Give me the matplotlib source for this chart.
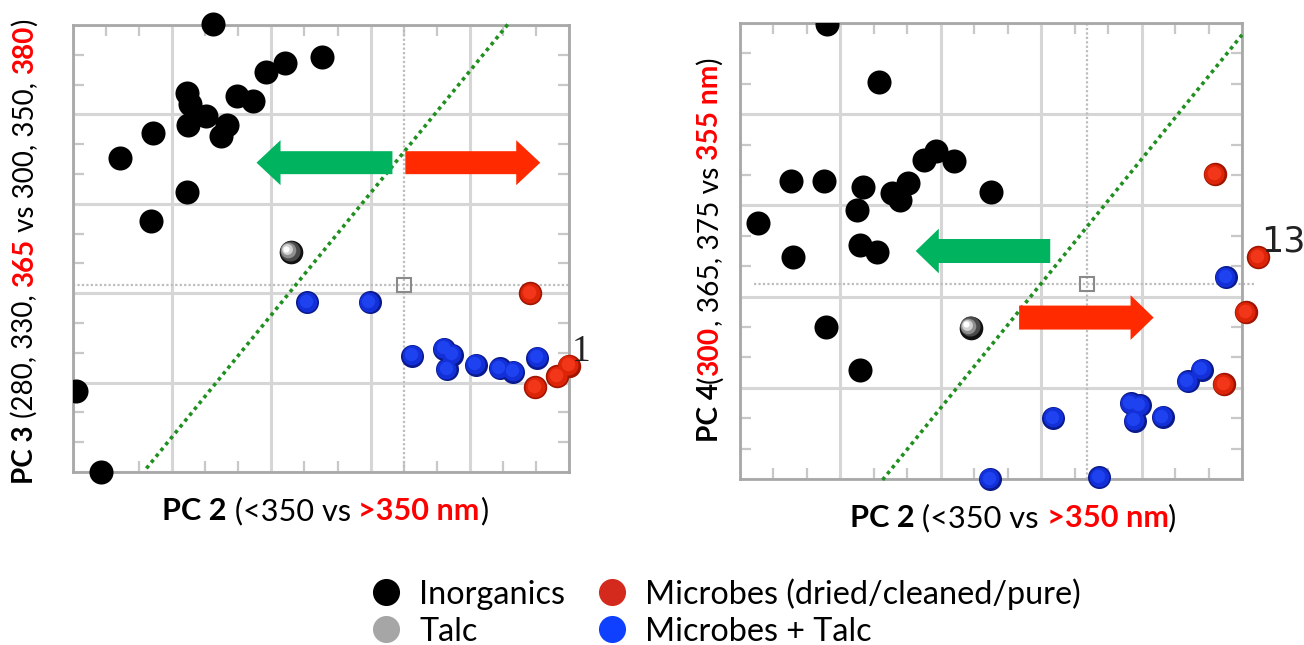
import matplotlib
matplotlib.use("Agg")
import matplotlib.pyplot as plt
import matplotlib.transforms as mtransforms
from matplotlib.patches import FancyArrow, Rectangle
from matplotlib.lines import Line2D
from matplotlib.ticker import MultipleLocator

# ---------------- data (grid units, 0..5 on each axis) ----------------
# Left panel: PC 2 (x) vs PC 3 (y)
L_inorg_x = [1.41, 2.51, 2.14, 1.95, 1.15, 1.65, 1.81, 1.18, 1.34, 1.16, 1.55, 1.49, 0.81, 0.47, 1.15, 0.79, 0.03, 0.28]
L_inorg_y = [5.01, 4.64, 4.57, 4.47, 4.24, 4.21, 4.15, 4.12, 3.98, 3.88, 3.88, 3.76, 3.79, 3.51, 3.13, 2.81, 0.91, 0.00]
L_talc_x = [2.20]
L_talc_y = [2.46]
L_mt_x = [2.36, 2.99, 3.42, 3.74, 3.82, 3.77, 4.06, 4.30, 4.44, 4.68]
L_mt_y = [1.90, 1.90, 1.30, 1.38, 1.31, 1.15, 1.20, 1.16, 1.12, 1.28]
L_mic_x = [4.61, 4.66, 4.88, 5.00]
L_mic_y = [2.00, 0.95, 1.07, 1.19]
L_center = (3.34, 2.09)
L_divider_x = [0.74, 4.40]
L_divider_y = [0.04, 5.03]
L_label = ("1", 5.12, 1.34)

# Right panel: PC 2 (x) vs PC 4 (y)
R_inorg_x = [0.87, 1.38, 1.95, 1.83, 2.13, 0.51, 0.84, 1.23, 1.67, 1.51, 1.59, 2.50, 1.17, 0.18, 1.20, 1.36, 0.53, 0.86, 1.20]
R_inorg_y = [4.99, 4.35, 3.60, 3.50, 3.49, 3.27, 3.27, 3.20, 3.25, 3.14, 3.06, 3.15, 2.95, 2.81, 2.57, 2.49, 2.43, 1.67, 1.20]
R_talc_x = [2.30]
R_talc_y = [1.66]
R_mt_x = [4.84, 4.60, 4.46, 3.89, 3.98, 3.93, 4.21, 3.12, 2.49, 3.58]
R_mt_y = [2.21, 1.20, 1.07, 0.83, 0.81, 0.64, 0.68, 0.67, 0.00, 0.02]
R_mic_x = [4.73, 5.16, 5.04, 4.82]
R_mic_y = [3.34, 2.43, 1.83, 1.04]
R_center = (3.46, 2.14)
R_divider_x = [1.42, 5.00]
R_divider_y = [-0.01, 4.87]
R_label = ("13", 5.41, 2.60)

legend_labels = ["Inorganics", "Talc", "Microbes (dried/cleaned/pure)", "Microbes + Talc"]

# ---------------- style ----------------
W, H = 1304, 645
FAM = ["Lato", "DejaVu Sans"]
BLACK = "#000000"
RED_T = "#ff0000"
GREEN_ARROW = "#00b35f"
RED_ARROW = "#ff2a00"
GRID = "#d6d6d6"
SPINE = "#a8a8a8"

fig = plt.figure(figsize=(W / 100, H / 100), dpi=100)
fig.patch.set_facecolor("white")


def px_rect(x0, y0, x1, y1):
    return [x0 / W, 1 - y1 / H, (x1 - x0) / W, (y1 - y0) / H]


axL = fig.add_axes(px_rect(73, 25, 569, 472))
axR = fig.add_axes(px_rect(740, 23, 1242, 479))

LAYERS = {
    "black": [("#000000", 1.0, 0, 0)],
    "blue": [("#0a1a8c", 1.0, 0, 0), ("#1330d8", 0.86, -0.4, 0.4), ("#1e42f0", 0.58, -1.0, 1.0)],
    "red": [("#a01400", 1.0, 0, 0), ("#dc2408", 0.86, -0.4, 0.4), ("#f2361a", 0.58, -1.0, 1.0)],
    "talc": [("#111111", 1.0, 0, 0), ("#4a4a4a", 0.85, -1.0, 0.8), ("#8f8f8f", 0.66, -2.0, 1.5), ("#d2d2d2", 0.46, -3.0, 2.0), ("#ffffff", 0.26, -3.6, 2.4)],
}


def sphere(ax, x, y, kind, size, clip):
    for color, frac, dx, dy in LAYERS[kind]:
        tr = ax.transData + mtransforms.ScaledTranslation(dx / 72, dy / 72, fig.dpi_scale_trans)
        sc = ax.scatter(x, y, s=size * frac ** 2, c=color, transform=tr, linewidths=0, zorder=5)
        sc.set_clip_path(clip)


def style_axes(ax):
    ax.set_xlim(0, 5)
    ax.set_ylim(0, 5)
    ax.set_xticks(range(6))
    ax.set_yticks(range(6))
    ax.xaxis.set_minor_locator(MultipleLocator(1 / 3))
    ax.yaxis.set_minor_locator(MultipleLocator(1 / 3))
    ax.set_xticklabels([])
    ax.set_yticklabels([])
    ax.tick_params(which="major", length=0)
    ax.tick_params(which="minor", direction="in", length=8, width=1.6, color="#c8c8c8",
                   top=True, right=True, bottom=True, left=True)
    ax.grid(True, which="major", color=GRID, lw=2.2, zorder=0)
    ax.set_axisbelow(True)
    for s in ax.spines.values():
        s.set_color(SPINE)
        s.set_linewidth(2)


def panel(ax, inorg, talc, mt, mic, center, divider, label, arrows, clipbox, hline_span=None, label_font=None):
    style_axes(ax)
    clip = Rectangle(clipbox[:2], clipbox[2], clipbox[3], transform=ax.transAxes, visible=False)
    ax.add_patch(clip)
    # crosshair
    ax.axvline(center[0], color="#bdbdbd", ls=(0, (1, 1)), lw=1.6, zorder=1)
    if hline_span is None:
        ax.axhline(center[1], color="#bdbdbd", ls=(0, (1, 1)), lw=1.6, zorder=1)
    else:
        ax.plot(hline_span, [center[1], center[1]], color="#bdbdbd", ls=(0, (1, 1)), lw=1.6, zorder=1, clip_on=False)
    ax.plot([center[0]], [center[1]], marker="s", ms=10, mfc="none", mec="#8a8a8a", mew=1.5, zorder=2)
    # divider
    ax.plot(divider[0], divider[1], color="#1f8f1f", ls=(0, (1, 1.1)), lw=2.6, zorder=3, clip_on=False)
    # points
    sphere(ax, inorg[0], inorg[1], "black", 300, clip)
    sphere(ax, talc[0], talc[1], "talc", 290, clip)
    sphere(ax, mt[0], mt[1], "blue", 275, clip)
    sphere(ax, mic[0], mic[1], "red", 285, clip)
    # arrows
    for (x0, x1, y, sw, hw, hl, col) in arrows:
        ax.add_patch(FancyArrow(x0, y, x1 - x0, 0, width=sw, head_width=hw, head_length=hl,
                                length_includes_head=True, color=col, lw=0, zorder=6, clip_on=False))
    ax.text(label[1], label[2], label[0], fontsize=label_font[1], family=label_font[0], color="#222222",
            ha="center", va="center", zorder=7, clip_on=False)


panel(axL, (L_inorg_x, L_inorg_y), (L_talc_x, L_talc_y), (L_mt_x, L_mt_y), (L_mic_x, L_mic_y),
      L_center, (L_divider_x, L_divider_y), L_label,
      [(3.22, 1.85, 3.46, 0.257, 0.503, 0.242, GREEN_ARROW),
       (3.35, 4.71, 3.46, 0.257, 0.503, 0.242, RED_ARROW)],
      clipbox=(0, -0.2, 1.3, 1.4), label_font=("Liberation Serif", 27))

panel(axR, (R_inorg_x, R_inorg_y), (R_talc_x, R_talc_y), (R_mt_x, R_mt_y), (R_mic_x, R_mic_y),
      R_center, (R_divider_x, R_divider_y), R_label,
      [(3.09, 1.75, 2.50, 0.263, 0.49, 0.23, GREEN_ARROW),
       (2.78, 4.12, 1.77, 0.263, 0.49, 0.23, RED_ARROW)],
      clipbox=(-0.2, -0.2, 1.4, 1.2), hline_span=[0.14, 5.12], label_font=("DejaVu Sans", 25))

# ---------------- rich text labels ----------------
renderer = fig.canvas.get_renderer()


def piece_width(s, weight, size):
    t = fig.text(0, 0, s + "x", fontsize=size, fontweight=weight, family=FAM)
    w1 = t.get_window_extent(renderer).width
    t.set_text("x")
    w2 = t.get_window_extent(renderer).width
    t.remove()
    return w1 - w2


def rich(pieces, cx, cy, target_len, rotation=0):
    base = 20.0
    ws = [piece_width(s, wt, base) for s, c, wt in pieces]
    size = base * target_len / sum(ws)
    ws = [w * size / base for w in ws]
    total = sum(ws)
    pos = -total / 2
    for (s, c, wt), w in zip(pieces, ws):
        if rotation == 0:
            fig.text((cx + pos) / W, 1 - cy / H, s, color=c, fontweight=wt, fontsize=size, family=FAM,
                     ha="left", va="baseline")
        else:
            fig.text(cx / W, 1 - (cy - pos) / H, s, color=c, fontweight=wt, fontsize=size, family=FAM,
                     ha="left", va="baseline", rotation=90, rotation_mode="anchor")
        pos += w
    return size


xlab = [("PC 2", BLACK, "bold"), (" (<350 vs ", BLACK, "normal"), (">350 nm", RED_T, "bold"), (")", BLACK, "normal")]
rich(xlab, 325, 520, 326)
rich(xlab, 1013, 527, 327)

ylabL = [("PC 3", BLACK, "bold"), (" (280, 330, ", BLACK, "normal"), ("365", RED_T, "bold"),
         (" vs 300, 350, ", BLACK, "normal"), ("380", RED_T, "bold"), (")", BLACK, "normal")]
rich(ylabL, 33, 251, 465, rotation=90)

ylabR = [("PC 4", BLACK, "bold"), ("(", BLACK, "normal"), ("300", RED_T, "bold"),
         (", 365, 375 vs ", BLACK, "normal"), ("355 nm", RED_T, "bold"), (")", BLACK, "normal")]
rich(ylabR, 718, 250, 385, rotation=90)

# ---------------- legend ----------------
leg_fs = 20.0 * 437 / piece_width(legend_labels[2], "normal", 20.0)
fs_px = leg_fs * 100 / 72
w_inorg = piece_width(legend_labels[0], "normal", leg_fs)
handlelength = 1.2
handletextpad = (33 - handlelength * fs_px / 2) / fs_px
col2_handle_start = 612 - handlelength * fs_px / 2
colspacing = (col2_handle_start - 419 - w_inorg) / fs_px

leg_colors = ["#000000", "#a6a6a6", "#d42a1e", "#1040ff"]
handles = [Line2D([], [], ls="none", marker="o", ms=19.5, mfc=c, mec="none") for c in leg_colors]
fig.legend(handles, legend_labels, ncol=2, loc="upper left",
           bbox_to_anchor=((386 - handlelength * fs_px / 2) / W, 1 - 578 / H),
           frameon=False, borderpad=0, borderaxespad=0, handlelength=handlelength,
           handletextpad=handletextpad, columnspacing=colspacing, labelspacing=0.22,
           prop={"family": FAM, "size": leg_fs})

fig.savefig("out.png", dpi=100, facecolor="white")
